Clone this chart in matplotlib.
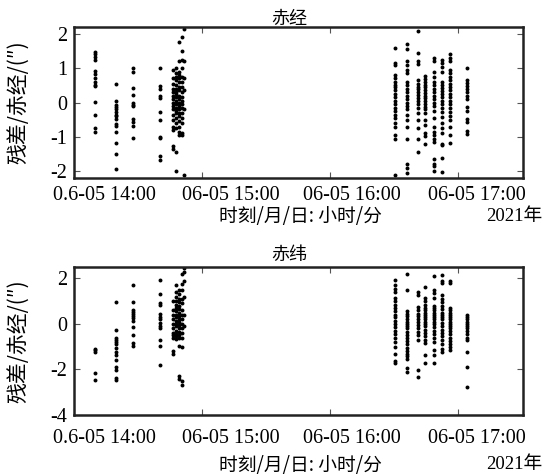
import matplotlib
matplotlib.use("Agg")
import matplotlib.pyplot as plt
import matplotlib.transforms as mtransforms
import numpy as np

# ---------------- data ----------------
# observation columns, minutes after 2021-06-05 14:00
cluster_minutes = [9.8, 19.5, 27.7, 40.5, 46.4, 47.8, 49.2, 50.6, 51.6,
                   150.5, 156.1, 161.3, 164.5, 168.75, 172.5, 176.25, 184.2]

ra_residuals = [
    [1.47, 1.41, 1.34, 1.25, 0.91, 0.83, 0.72, 0.6, 0.52, 0.47, 0.01, -0.35, -0.73, -0.85],
    [0.54, 0.04, -0.06, -0.14, -0.2, -0.27, -0.35, -0.4, -0.49, -0.64, -0.69, -0.86, -1.19, -1.49, -1.94],
    [1.0, 0.89, 0.43, 0.23, -0.01, -0.06, -0.11, -0.49, -0.56, -0.69, -1.02],
    [1.0, 0.49, 0.38, 0.18, 0.12, -0.27, -0.52, -1.0, -1.03, -1.56, -1.68],
    [0.95, 0.7, 0.55, 0.4, 0.3, 0.2, 0.1, 0.0, -0.1, -0.2, -0.35, -0.5, -0.7, -0.8, -1.27, -1.35],
    [1.0, 0.85, 0.75, 0.65, 0.5, 0.4, 0.3, 0.25, 0.15, 0.05, -0.05, -0.15, -0.25, -0.3, -0.45, -0.6, -0.75, -1.45, -2.0],
    [1.75, 1.2, 0.9, 0.8, 0.7, 0.6, 0.45, 0.35, 0.2, 0.1, 0.0, -0.1, -0.2, -0.3, -0.4, -0.55, -0.7, -0.85, -0.95],
    [1.92, 1.5, 1.25, 1.0, 0.75, 0.6, 0.45, 0.3, 0.15, 0.05, -0.05, -0.15, -0.3, -0.45, -0.6, -0.9, -0.95],
    [2.15, 1.22, 0.7, 0.35, -0.2, -2.1],
    [1.6, 1.15, 1.1, 0.8, 0.7, 0.6, 0.5, 0.45, 0.35, 0.25, 0.15, 0.05, -0.05, -0.15, -0.25, -0.35, -0.45, -0.6, -0.7, -0.95, -1.05, -2.1],
    [1.7, 1.55, 1.2, 1.1, 0.95, 0.85, 0.6, 0.5, 0.4, 0.3, 0.2, 0.1, 0.0, -0.1, -0.2, -0.35, -0.5, -0.72, -1.07, -1.8, -1.92, -2.05],
    [2.08, 1.45, 1.22, 1.12, 0.65, 0.55, 0.45, 0.38, 0.3, 0.22, 0.12, 0.05, -0.05, -0.15, -0.3, -0.5, -0.75, -1.07, -1.45],
    [0.76, 0.68, 0.6, 0.52, 0.44, 0.36, 0.28, 0.2, 0.12, 0.04, -0.04, -0.12, -0.2, -0.3, -0.5, -0.65, -0.88, -0.97, -1.2],
    [1.3, 1.2, 0.9, 0.75, 0.6, 0.5, 0.4, 0.3, 0.2, 0.1, 0.0, -0.1, -0.25, -0.45, -0.72, -0.87, -0.95, -1.07, -1.15, -1.65, -1.8, -1.85, -2.0],
    [1.25, 1.15, 1.03, 0.89, 0.6, 0.5, 0.42, 0.33, 0.25, 0.15, 0.05, -0.05, -0.15, -0.28, -0.43, -0.6, -0.73, -0.88, -1.2, -1.25, -1.62, -2.03],
    [1.42, 1.3, 1.2, 0.95, 0.85, 0.75, 0.65, 0.55, 0.45, 0.35, 0.25, 0.15, 0.05, -0.05, -0.15, -0.28, -0.4, -0.5, -0.72, -0.95, -1.17],
    [1.0, 0.67, 0.57, 0.49, 0.4, 0.3, 0.18, 0.09, -0.14, -0.24, -0.48, -0.58, -0.82, -0.92],
]

dec_residuals = [
    [-1.08, -1.15, -1.22, -2.15, -2.46],
    [0.97, -0.28, -0.6, -0.7, -0.8, -0.9, -1.05, -1.22, -1.36, -1.58, -1.88, -2.02, -2.38, -2.48],
    [1.72, 0.98, 0.62, 0.52, 0.45, 0.35, 0.28, 0.15, -0.12, -0.48, -0.85, -0.98],
    [1.95, 1.3, 0.93, 0.85, 0.45, 0.3, 0.2, 0.05, -0.1, -0.2, -0.7, -0.95, -1.8],
    [1.0, 0.6, 0.4, 0.2, 0.0, -0.2, -0.4, -0.5, -0.6, -1.2, -1.3],
    [1.7, 1.4, 1.2, 1.0, 0.85, 0.7, 0.55, 0.4, 0.3, 0.15, 0.0, -0.1, -0.3, -0.45, -0.55, -0.65],
    [1.5, 1.3, 1.1, 0.95, 0.8, 0.65, 0.5, 0.35, 0.2, 0.1, -0.05, -0.2, -0.35, -0.5, -0.6, -0.95, -2.3, -2.4],
    [2.2, 1.75, 1.5, 1.1, 0.9, 0.6, 0.4, 0.2, 0.0, -0.2, -0.4, -0.6, -1.0, -2.5, -2.7],
    [2.45, 2.3, 1.9, 1.2, 0.4, -0.1],
    [1.93, 1.7, 1.55, 1.4, 1.15, 1.0, 0.85, 0.7, 0.55, 0.4, 0.3, 0.15, 0.0, -0.15, -0.3, -0.45, -0.6, -0.8, -1.0, -1.3, -1.65, -1.73],
    [2.2, 1.5, 0.55, 0.45, 0.35, 0.2, 0.1, 0.0, -0.1, -0.2, -0.35, -0.5, -0.6, -0.75, -0.9, -1.05, -1.2, -1.3, -1.4, -1.55, -1.95, -2.1],
    [1.42, 1.28, 0.75, 0.6, 0.45, 0.35, 0.2, 0.1, -0.05, -0.2, -0.35, -0.5, -0.7, -2.02, -2.32],
    [1.64, 1.15, 1.0, 0.85, 0.7, 0.6, 0.5, 0.4, 0.3, 0.2, 0.1, 0.0, -0.1, -0.25, -0.4, -0.55, -0.7, -0.85, -1.36, -1.7],
    [2.1, 1.5, 1.35, 1.15, 0.8, 0.7, 0.6, 0.5, 0.4, 0.3, 0.2, 0.1, 0.0, -0.15, -0.3, -0.45, -0.6, -0.8, -1.14, -1.36, -1.73],
    [2.15, 1.9, 1.8, 1.25, 1.1, 0.95, 0.8, 0.65, 0.5, 0.4, 0.3, 0.2, 0.05, -0.1, -0.25, -0.4, -0.55, -0.7, -0.9, -1.1, -1.22],
    [1.9, 1.8, 0.7, 0.6, 0.5, 0.4, 0.3, 0.2, 0.1, 0.0, -0.1, -0.2, -0.3, -0.45, -0.6, -0.75, -0.9, -1.0, -1.14],
    [0.4, 0.3, 0.2, 0.1, 0.0, -0.1, -0.2, -0.3, -0.45, -0.6, -0.7, -1.25, -1.9, -2.75],
]

tick_minutes = [0, 60, 120, 180]
tick_labels = ["0.6-05 14:00", "06-05 15:00", "06-05 16:00", "06-05 17:00"]
ra_yticks = [-2, -1, 0, 1, 2]
dec_yticks = [-4, -2, 0, 2]
titles = ["赤经", "赤纬"]
ylabel = "残差/赤经/(″)"
xlabel = "时刻/月/日: 小时/分"
year_label = "2021年"

# ---------------- plotting ----------------
CJK = ["Noto Sans CJK SC", "DejaVu Sans"]
SERIF = "Liberation Serif"

fig = plt.figure(figsize=(5.52, 4.76), dpi=100)
ax1 = fig.add_axes([74 / 552, 1 - 178 / 476, 449 / 552, 151 / 476])
ax2 = fig.add_axes([74 / 552, 1 - 415 / 476, 449 / 552, 148 / 476])

label_shift_px = [30, 29, 22, 19]

def draw(ax, residuals, yticks, ylim, title, xpad, tpad):
    for t, vals in zip(cluster_minutes, residuals):
        ax.scatter([t] * len(vals), vals, s=8, c="black", linewidths=0)
    ax.set_xlim(0, 210.5)
    ax.set_ylim(*ylim)
    ax.set_xticks(tick_minutes)
    ax.set_xticklabels(tick_labels, fontfamily=SERIF, fontsize=14.5)
    ax.set_yticks(yticks)
    ax.set_yticklabels([str(v) for v in yticks], fontfamily=SERIF, fontsize=14.5)
    ax.tick_params(direction="in", length=4, width=0.8, top=True, right=True,
                   colors="#555555", labelcolor="black")
    ax.tick_params(axis="x", pad=xpad)
    ax.tick_params(axis="y", pad=5)
    for sp in ax.spines.values():
        sp.set_linewidth(1.8)
        sp.set_color("#222222")
    for lab, dx in zip(ax.get_xticklabels(), label_shift_px):
        off = mtransforms.ScaledTranslation(dx / 100, 0, fig.dpi_scale_trans)
        lab.set_transform(lab.get_transform() + off)
    ax.set_title(title, family=CJK, fontsize=13, pad=tpad, x=0.48)
    ax.set_ylabel(ylabel, family=CJK, fontsize=15, va="center")
    ax.yaxis.set_label_coords(-0.123, 0.5)

draw(ax1, ra_residuals, ra_yticks, (-2.2, 2.2), titles[0], 6, 2)
draw(ax2, dec_residuals, dec_yticks, (-4.0, 2.5), titles[1], 10, 5)

for ax, ypix in ((ax1, 217), (ax2, 465)):
    fig.text(300 / 552, 1 - ypix / 476, xlabel, family=CJK, fontsize=13.5,
             ha="center", va="center")
    fig.text(514 / 552, 1 - ypix / 476, year_label, family=[SERIF] + CJK,
             fontsize=13.5, ha="center", va="center")

fig.savefig("out.png", dpi=100, facecolor="white")
